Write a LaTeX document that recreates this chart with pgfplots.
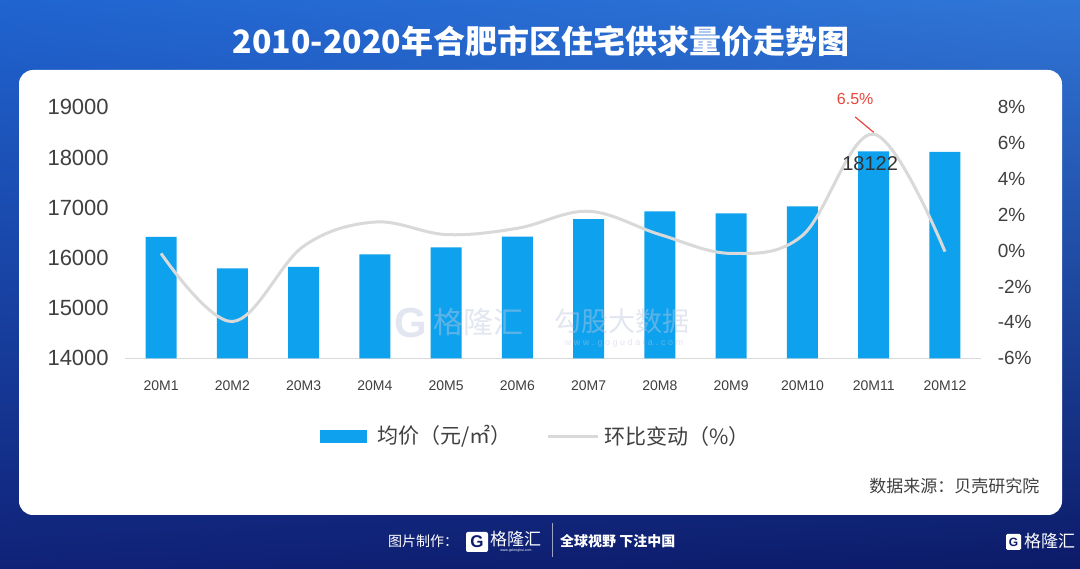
\documentclass[border=0pt]{standalone}
\usepackage{fontspec}
\usepackage{pgfplots}
\pgfplotsset{compat=1.18}
\usetikzlibrary{shadings}
\setmainfont{Liberation Sans}
\newfontfamily\cjk{Noto Sans CJK SC}
\definecolor{barblue}{RGB}{14,162,238}
\definecolor{linegray}{RGB}{217,217,217}
\definecolor{txt}{RGB}{64,64,64}
\definecolor{navy}{RGB}{14,28,110}
\definecolor{bgul}{RGB}{32,100,208}
\definecolor{bgur}{RGB}{48,118,215}
\definecolor{bgll}{RGB}{16,34,120}
\definecolor{bglr}{RGB}{12,26,104}
\definecolor{wm}{RGB}{190,200,222}
\definecolor{annred}{RGB}{232,70,60}
\newcommand{\fs}[1]{\fontsize{#1bp}{#1bp}\selectfont}

\pgfplotstableread{
x y
0 16420
1 15790
2 15820
3 16070
4 16210
5 16425
6 16770
7 16925
8 16885
9 17025
10 18122
11 18110
}\pricetable

\pgfplotstableread{
x y
0 -0.15
1 -3.95
2 0.25
3 1.6
4 0.9
5 1.25
6 2.2
7 0.9
8 -0.15
9 0.85
10 6.5
11 -0.05
}\chgtable

\begin{document}
\begin{tikzpicture}[x=1bp,y=1bp]
% background
\shade[upper left=bgul, upper right=bgur, lower left=bgll, lower right=bglr] (0,0) rectangle (1080,569);
% panel
\fill[white, rounded corners=14] (19,54) rectangle (1062,499);
% title
\node[white] at (541,528) {\cjk\bfseries\fs{32}2010-2020年合肥市区住宅供求量价走势图};

% bar axis
\begin{axis}[
  at={(125.4bp,210.7bp)}, anchor=south west, scale only axis,
  width=855.2bp, height=251bp,
  xmin=-0.5, xmax=11.5, ymin=14000, ymax=19000,
  ybar, bar width=31bp,
  axis x line*=bottom, axis y line*=left,
  x axis line style={draw=linegray, line width=1bp, -},
  y axis line style={draw=none},
  major tick length=0pt,
  scaled y ticks=false,
  xtick={0,...,11},
  xticklabels={20M1,20M2,20M3,20M4,20M5,20M6,20M7,20M8,20M9,20M10,20M11,20M12},
  xticklabel style={anchor=north, inner sep=0pt, yshift=-22bp, font=\fs{14}, text=txt},
  ytick={14000,15000,16000,17000,18000,19000},
  yticklabels={14000,15000,16000,17000,18000,19000},
  yticklabel style={anchor=east, inner sep=0pt, xshift=-16.5bp, font=\fs{22}, text=txt},
  clip=false,
]
\addplot[fill=barblue, draw=none, bar shift=0pt] table[x=x,y=y] {\pricetable};
\end{axis}

% line axis
\begin{axis}[
  at={(125.4bp,210.7bp)}, anchor=south west, scale only axis,
  width=855.2bp, height=251bp,
  xmin=-0.5, xmax=11.5, ymin=-6, ymax=8,
  axis x line=none, axis y line*=right,
  y axis line style={draw=none},
  major tick length=0pt,
  xtick=\empty,
  ytick={-6,-4,-2,0,2,4,6,8},
  yticklabels={-6\%,-4\%,-2\%,0\%,2\%,4\%,6\%,8\%},
  yticklabel style={anchor=west, inner sep=0pt, xshift=17bp, font=\fs{19}, text=txt},
  clip=false,
]
\addplot[linegray, line width=3bp, smooth, tension=0.6] table[x=x,y=y] {\chgtable};
\draw[annred, line width=1.2bp] (axis cs:9.74,7.46) -- (axis cs:10.0,6.6);
\node[text=annred, font=\fs{16}] at (axis cs:9.74,8.49) {6.5\%};
\node[text=black!80, font=\fs{20}] at (axis cs:9.95,4.84) {18122};
\end{axis}

% watermark
\begin{scope}[opacity=0.45]
\node[text=wm, font=\bfseries\fs{42}] at (411,246) {G};
\node[text=wm] at (478,247) {\cjk\fs{30}格隆汇};
\node[text=wm] at (622,248) {\cjk\fs{27}勾股大数据};
\node[text=wm, font=\fs{9}] at (624,226) {w w w . g o g u d a t a . c o m};
\end{scope}

% legend
\fill[barblue] (320,126) rectangle (367,139);
\node[anchor=west, text=txt] at (374,132.5) {\cjk\fs{21}均价（元/㎡）};
\draw[linegray, line width=3bp] (548,132.5) -- (598,132.5);
\node[anchor=west, text=txt] at (601,132.5) {\cjk\fs{21}环比变动（\%）};

% source
\node[anchor=east, text=txt] at (1043,83) {\cjk\fs{17}数据来源：贝壳研究院};

% footer
\node[anchor=west, white, inner sep=0pt] at (388,28) {\cjk\fs{14}图片制作：};
\fill[white, rounded corners=2] (466,17) rectangle (488,37);
\node[text=navy, font=\bfseries\fs{17}] at (477,27) {G};
\node[anchor=west, white, inner sep=0pt] at (490,29.5) {\cjk\fs{17}格隆汇};
\node[white, font=\fs{3.5}] at (516,18.5) {www.gelonghui.com};
\draw[white!60!navy, line width=0.8bp] (552,12) -- (552,46);
\node[anchor=west, white, inner sep=0pt] at (560,28) {\cjk\bfseries\fs{14}全球视野 下注中国};
\fill[white, rounded corners=1.5] (1006,19) rectangle (1021,35);
\node[text=navy, font=\bfseries\fs{12}] at (1013.5,27) {G};
\node[anchor=west, white, inner sep=0pt] at (1024,27.5) {\cjk\fs{17}格隆汇};
\end{tikzpicture}
\end{document}
